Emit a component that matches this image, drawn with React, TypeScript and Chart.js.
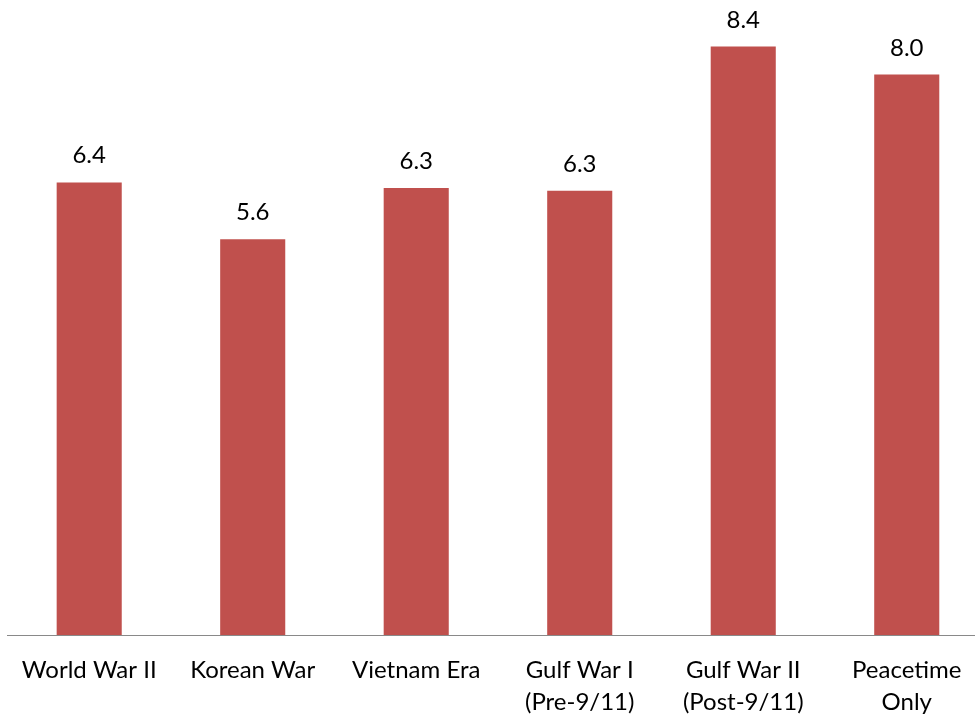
import React, { useEffect, useRef } from "react";
import { Chart, registerables } from "chart.js";

Chart.register(...registerables);

const categories: (string | string[])[] = [
  "World War II",
  "Korean War",
  "Vietnam Era",
  ["Gulf War I", "(Pre-9/11)"],
  ["Gulf War II", "(Post-9/11)"],
  ["Peacetime", "Only"],
];
// bar heights
const values: number[] = [6.46, 5.65, 6.38, 6.34, 8.4, 8.0];
// data labels as printed on the picture
const valueLabels: string[] = ["6.4", "5.6", "6.3", "6.3", "8.4", "8.0"];

const FONT = "Lato, 'DejaVu Sans', sans-serif";

const dataLabelPlugin = {
  id: "dataLabels",
  afterDatasetsDraw(chart: any) {
    const ctx = chart.ctx;
    const meta = chart.getDatasetMeta(0);
    ctx.save();
    ctx.font = `24px ${FONT}`;
    ctx.fillStyle = "#000000";
    ctx.textAlign = "center";
    ctx.textBaseline = "alphabetic";
    meta.data.forEach((el: any, i: number) => {
      ctx.fillText(valueLabels[i], el.x, el.y - 19);
    });
    ctx.restore();
  },
};

export default function App() {
  const ref = useRef<HTMLCanvasElement | null>(null);
  useEffect(() => {
    if (!ref.current) return;
    const chart = new Chart(ref.current, {
      type: "bar",
      data: {
        labels: categories,
        datasets: [
          {
            data: values,
            backgroundColor: "#C0504D",
            borderWidth: 0,
            categoryPercentage: 1,
            barPercentage: 0.398,
          },
        ],
      },
      options: {
        animation: false,
        responsive: false,
        devicePixelRatio: 1,
        layout: { padding: { left: 7.45, right: 11.5, top: 4.5, bottom: 0 } },
        plugins: {
          legend: { display: false },
          tooltip: { enabled: false },
          title: { display: false },
        },
        scales: {
          x: {
            grid: { display: false, drawTicks: false },
            border: { display: true, color: "#898989", width: 1 },
            ticks: {
              color: "#000000",
              padding: 19,
              font: { family: FONT, size: 24, lineHeight: 1.35 },
              maxRotation: 0,
              autoSkip: false,
            },
            afterFit(scale: any) {
              scale.height = 82;
            },
          },
          y: { display: false, min: 0, max: 9 },
        },
      },
      plugins: [dataLabelPlugin],
    });
    return () => chart.destroy();
  }, []);
  return (
    <div
      style={{
        position: "absolute",
        left: 0,
        top: 0,
        width: 975,
        height: 717,
        overflow: "hidden",
        background: "#ffffff",
      }}
    >
      <canvas ref={ref} width={1000} height={717} style={{ display: "block" }} />
    </div>
  );
}
